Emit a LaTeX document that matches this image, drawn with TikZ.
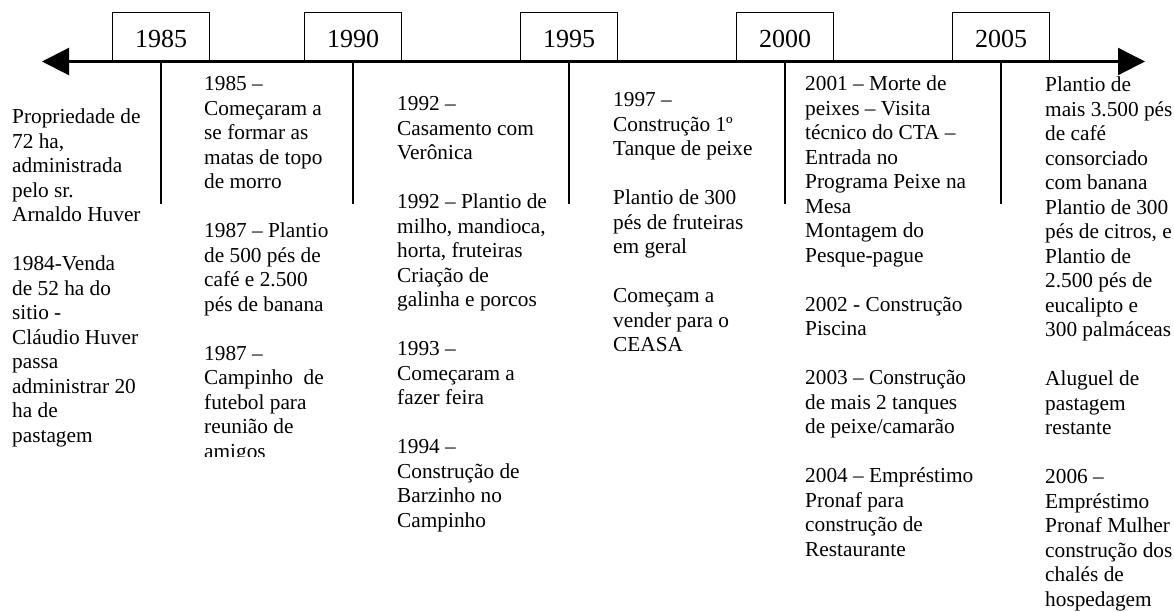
\documentclass[tikz,border=0pt]{standalone}
\usepackage{fontspec}
\setmainfont{Liberation Serif}
\usetikzlibrary{arrows.meta}
\newcommand\gapl{\\[24.5pt]}
\newcommand\coltxt[1]{\parbox[t]{230pt}{\raggedright\fontsize{21.3}{24.5}\selectfont #1}}
\begin{document}
\begin{tikzpicture}[x=1pt,y=-1pt,
  yearbox/.style={draw, line width=1.3pt, minimum width=97pt, minimum height=48pt,
    inner sep=0pt, anchor=south, font=\fontsize{26}{26}\selectfont,
    text height=22pt, text depth=0pt},
  axisline/.style={line width=2.2pt,
    {Triangle[length=27pt,width=27pt]}-{Triangle[length=27pt,width=27pt]}},
  tickline/.style={line width=2pt},
  coltext/.style={anchor=base west, inner sep=0pt}]
\useasboundingbox (0,0) rectangle (1174,612);

\coordinate (la) at (42,61.5);
\coordinate (ra) at (1145,61.5);
\draw[axisline] (la) -- (ra);

\node[yearbox] (b1985) at (161,61.5) {1985};
\node[yearbox] (b1990) at (353,61.5) {1990};
\node[yearbox] (b1995) at (569,61.5) {1995};
\node[yearbox] (b2000) at (785,61.5) {2000};
\node[yearbox] (b2005) at (1001,61.5) {2005};

\coordinate (t1) at (161,204);
\coordinate (t2) at (353,204);
\coordinate (t3) at (569,204);
\coordinate (t4) at (785,204);
\coordinate (t5) at (1001,204);
\draw[tickline] (b1985.south) -- (t1);
\draw[tickline] (b1990.south) -- (t2);
\draw[tickline] (b1995.south) -- (t3);
\draw[tickline] (b2000.south) -- (t4);
\draw[tickline] (b2005.south) -- (t5);

\node[coltext] (c1) at (12,124) {\coltxt{Propriedade de\\ 72 ha,\\ administrada\\ pelo sr.\\ Arnaldo Huver\gapl 1984-Venda\\ de 52 ha do\\ sitio -\\ Cláudio Huver\\ passa\\ administrar 20\\ ha de\\ pastagem}};

\begin{scope}
\clip (190,70) rectangle (345,456);
\node[coltext] (c2) at (204,91) {\coltxt{1985 –\\ Começaram a\\ se formar as\\ matas de topo\\ de morro\gapl 1987 – Plantio\\ de 500 pés de\\ café e 2.500\\ pés de banana\gapl 1987 –\\ Campinho\ \ de\\ futebol para\\ reunião de\\ amigos}};
\end{scope}

\node[coltext] (c3) at (397,111) {\coltxt{1992 –\\ Casamento com\\ Verônica\gapl 1992 – Plantio de\\ milho, mandioca,\\ horta, fruteiras\\ Criação de\\ galinha e porcos\gapl 1993 –\\ Começaram a\\ fazer feira\gapl 1994 –\\ Construção de\\ Barzinho no\\ Campinho}};

\node[coltext] (c4) at (613,107) {\coltxt{1997 –\\ Construção 1º\\ Tanque de peixe\gapl Plantio de 300\\ pés de fruteiras\\ em geral\gapl Começam a\\ vender para o\\ CEASA}};

\node[coltext] (c5) at (805,91) {\coltxt{2001 – Morte de\\ peixes – Visita\\ técnico do CTA –\\ Entrada no\\ Programa Peixe na\\ Mesa\\ Montagem do\\ Pesque-pague\gapl 2002 - Construção\\ Piscina\gapl 2003 – Construção\\ de mais 2 tanques\\ de peixe/camarão\gapl 2004 – Empréstimo\\ Pronaf para\\ construção de\\ Restaurante}};

\node[coltext] (c6) at (1045,92) {\coltxt{Plantio de\\ mais 3.500 pés\\ de café\\ consorciado\\ com banana\\ Plantio de 300\\ pés de citros, e\\ Plantio de\\ 2.500 pés de\\ eucalipto e\\ 300 palmáceas\gapl Aluguel de\\ pastagem\\ restante\gapl 2006 –\\ Empréstimo\\ Pronaf Mulher\\ construção dos\\ chalés de\\ hospedagem}};
\end{tikzpicture}
\end{document}
